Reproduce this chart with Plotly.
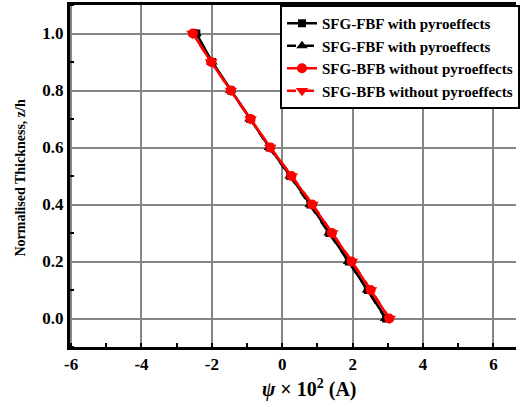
import plotly.graph_objects as go

z = [0.0, 0.1, 0.2, 0.3, 0.4, 0.5, 0.6, 0.7, 0.8, 0.9, 1.0]
fbf_with = [2.95, 2.43, 1.89, 1.34, 0.80, 0.23, -0.36, -0.91, -1.46, -1.99, -2.44]
fbf_with2 = [2.93, 2.42, 1.88, 1.33, 0.79, 0.22, -0.37, -0.92, -1.47, -2.00, -2.45]
bfb_without = [3.04, 2.51, 1.97, 1.41, 0.85, 0.26, -0.34, -0.90, -1.46, -2.02, -2.54]
bfb_without2 = [3.05, 2.52, 1.98, 1.42, 0.86, 0.27, -0.34, -0.90, -1.46, -2.02, -2.55]

names = ["SFG-FBF with pyroeffects", "SFG-FBF with pyroeffects",
         "SFG-BFB without pyroeffects", "SFG-BFB without pyroeffects"]

x_ticks = [-6, -4, -2, 0, 2, 4, 6]
x_ticktext = ["-6", "-4", "-2", "0", "2", "4", "6"]

x_title = "<i>ψ</i> × 10<sup>2</sup> (A)"
y_title = "Normalised Thickness, z/h"

FONT = "Liberation Serif, Times New Roman, serif"

fig = go.Figure()
fig.add_trace(go.Scatter(x=fbf_with, y=z, name=names[0], mode="lines+markers",
                         line=dict(color="black", width=2.5),
                         marker=dict(symbol="square", size=8, color="black")))
fig.add_trace(go.Scatter(x=fbf_with2, y=z, name=names[1], mode="lines+markers",
                         line=dict(color="black", width=2.5, dash="dash"),
                         marker=dict(symbol="triangle-up", size=10, color="black")))
fig.add_trace(go.Scatter(x=bfb_without, y=z, name=names[2], mode="lines+markers",
                         line=dict(color="#ff0000", width=2.5),
                         marker=dict(symbol="circle", size=10, color="#ff0000")))
fig.add_trace(go.Scatter(x=bfb_without2, y=z, name=names[3], mode="lines+markers",
                         line=dict(color="#ff0000", width=2.5, dash="dash"),
                         marker=dict(symbol="triangle-down", size=11, color="#ff0000")))

fig.update_layout(
    width=520, height=407,
    margin=dict(l=70, r=0, t=5, b=60),
    paper_bgcolor="white", plot_bgcolor="white",
    font=dict(family=FONT, color="black"),
    showlegend=True,
    legend=dict(x=0.471, y=1.0, xanchor="left", yanchor="top",
                bordercolor="black", borderwidth=2, bgcolor="white",
                font=dict(family=FONT, size=15, color="black", weight="bold"),
                tracegroupgap=0, itemwidth=30),
    xaxis=dict(range=[-6.03, 6.64], tickmode="array", tickvals=x_ticks, ticktext=x_ticktext,
               showgrid=True, gridcolor="#858585", gridwidth=1.7,
               showline=True, linecolor="black", linewidth=3, mirror=True,
               ticks="", zeroline=False,
               tickfont=dict(family=FONT, size=17, weight="bold"),
               minor=dict(dtick=1, ticks="inside", ticklen=4, tickwidth=1.5, tickcolor="black", showgrid=False)),
    yaxis=dict(range=[-0.1, 1.1], dtick=0.2, tick0=0, tickformat=".1f",
               showgrid=True, gridcolor="#858585", gridwidth=1.7,
               showline=True, linecolor="black", linewidth=3, mirror=False,
               ticks="", zeroline=False,
               tickfont=dict(family=FONT, size=17, weight="bold"),
               minor=dict(dtick=0.1, ticks="inside", ticklen=4, tickwidth=1.5, tickcolor="black", showgrid=False)),
    annotations=[
        dict(text=x_title, xref="paper", yref="paper", x=0.538, y=-0.12,
             xanchor="center", yanchor="middle", showarrow=False,
             font=dict(family=FONT, size=20, weight="bold", color="black")),
        dict(text=y_title, xref="paper", yref="paper", x=-0.111, y=0.494,
             xanchor="center", yanchor="middle", showarrow=False, textangle=-90,
             font=dict(family=FONT, size=14, weight="bold", color="black")),
    ],
)

fig.write_html("out.html")
